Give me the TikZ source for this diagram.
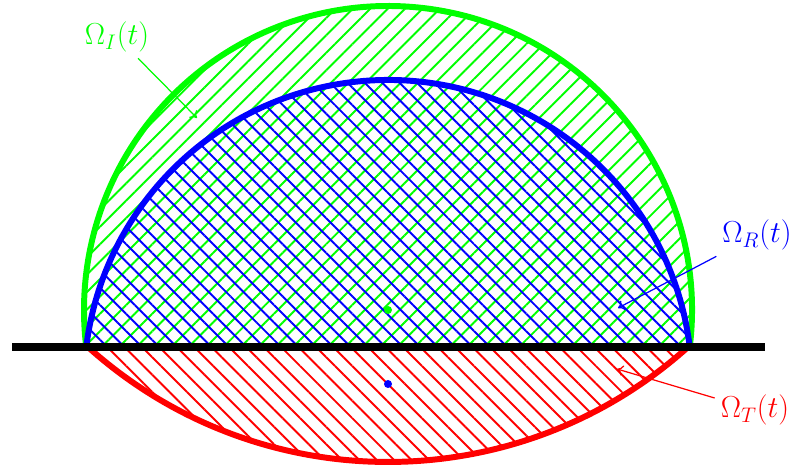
\documentclass[tikz,border=0pt]{standalone}
\usetikzlibrary{patterns.meta, arrows.meta}
\definecolor{incgreen}{RGB}{0,255,0}
\definecolor{refblue}{RGB}{0,0,255}
\definecolor{trared}{RGB}{255,0,0}
\tikzset{
  front/.style={line width=3.4pt},
  wall/.style={line width=4pt, black},
  hatchI/.style={pattern={Lines[angle=45,distance=7pt,line width=1.1pt]}, pattern color=incgreen},
  hatchR/.style={pattern={Lines[angle=-45,distance=7pt,line width=1.1pt]}, pattern color=refblue},
  hatchT/.style={pattern={Lines[angle=-45,distance=7pt,line width=1.1pt]}, pattern color=trared},
  lbl/.style={font=\LARGE},
  pointer/.style={-{To[length=3.5pt, width=6pt]}, line width=0.7pt}
}

\begin{document}
\begin{tikzpicture}[x=0.2mm, y=0.2mm]
\useasboundingbox (0,0) rectangle (792,466);

% Centres of the three fronts
\coordinate (cI) at (388,156);
\coordinate (cR) at (388,82);
\coordinate (cT) at (388,453);

% Hatched regions
\fill[hatchI] (cI) ++(-7:304) arc[start angle=-7, end angle=187, radius=304] -- cycle;
\fill[hatchR] (cR) ++(7:304) arc[start angle=7, end angle=173, radius=304] -- cycle;
\fill[hatchT] (cT) ++(-48.07:449) arc[start angle=-48.07, end angle=-131.93, radius=449] -- cycle;

% Fronts
\draw[front, incgreen] (cI) ++(-7:304) arc[start angle=-7, end angle=187, radius=304];
\draw[front, refblue] (cR) ++(7:304) arc[start angle=7, end angle=173, radius=304];
\draw[front, trared] (cT) ++(-48.07:449) arc[start angle=-48.07, end angle=-131.93, radius=449];

% Wall
\coordinate (wallL) at (12,119);
\coordinate (wallR) at (765,119);
\draw[wall] (wallL) -- (wallR);

% Centre points
\fill[incgreen] (cI) circle[radius=4];
\fill[refblue] (cR) circle[radius=4];

% Labels
\node[lbl, text=incgreen] (lblI) at (117,429) {$\Omega_I(t)$};
\node[lbl, text=refblue] (lblR) at (757,231) {$\Omega_R(t)$};
\node[lbl, text=trared] (lblT) at (755,56) {$\Omega_T(t)$};

\coordinate (tipI) at (197,348);
\coordinate (tipR) at (618,158);
\coordinate (tipT) at (617,97);

\draw[pointer, incgreen] (lblI) -- (tipI);
\draw[pointer, refblue] (lblR) -- (tipR);
\draw[pointer, trared] (lblT) -- (tipT);

\end{tikzpicture}
\end{document}
